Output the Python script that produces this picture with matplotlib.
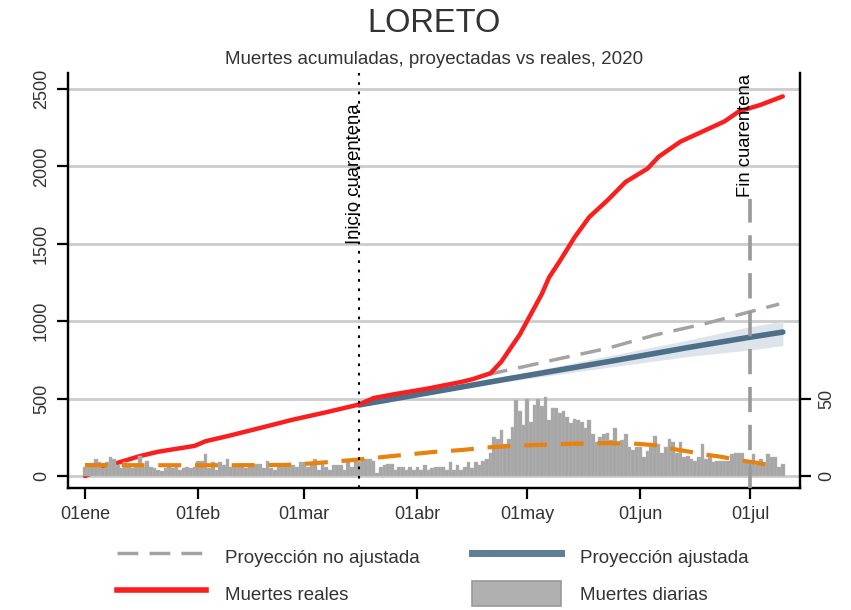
import numpy as np
import matplotlib
matplotlib.use('Agg')
import matplotlib.pyplot as plt
from matplotlib.lines import Line2D
from matplotlib.patches import Patch

plt.rcParams['font.family'] = ['Liberation Sans', 'DejaVu Sans']

########### Data (day 0 = 01 ene 2020)
# daily deaths, 01ene .. 10jul
daily_deaths = [6, 6, 8, 11, 9, 5, 9, 12, 11, 7, 5, 9, 8, 5, 8, 13, 6, 10, 6, 5,
                4, 3, 5, 6, 5, 7, 4, 5, 6, 5, 6, 10, 10, 14, 5, 9, 4, 9, 7, 11,
                6, 6, 7, 7, 5, 7, 8, 8,
                8, 5, 10, 5, 4, 6, 6, 8, 8, 7, 6, 9, 9, 6, 8, 11, 4, 10, 6, 4,
                7, 7, 7, 4, 9, 6, 10, 9, 11, 11, 11, 10, 2, 6, 7, 8, 8, 4, 6, 6,
                4, 6, 4, 6, 4, 7, 4, 5,
                6, 6, 6, 4, 9, 4, 7, 4, 6, 9, 5, 9, 7, 10, 11, 15, 25, 24, 30, 21,
                24, 32, 49, 42, 33, 50, 35, 46, 50, 45, 51, 36, 44, 44, 41, 42, 38, 34, 37, 36,
                35, 31, 36, 27, 22, 25, 27, 28, 23,
                31, 20, 23, 27, 19, 17, 19, 19, 12, 16, 19, 26, 21, 15, 19, 24, 22, 15, 22, 12,
                13, 11, 10, 12, 21, 11, 12, 9, 10, 10, 10, 10, 14, 15, 15, 15, 9, 6, 14, 7,
                11, 9, 14, 12, 12, 6, 8]
daily_days = list(range(len(daily_deaths)))

# smoothed daily deaths
smooth_days = [0, 20, 40, 55, 62, 68, 75, 84, 96, 103, 110, 118, 126, 134, 142,
               150, 157, 161, 166, 170, 174, 179, 184, 189]
smooth_vals = [7.1, 7.0, 7.0, 7.2, 8.2, 9.3, 10.7, 12.9, 15.7, 16.8, 18.5, 19.6, 20.3, 20.9, 21.3,
               21.0, 19.8, 17.5, 15.5, 13.8, 12.5, 10.3, 8.5, 6.3]

# cumulative deaths (observed)
real_days = [0, 8, 15, 20, 30, 33, 39, 48, 57, 66, 73, 75, 79, 84, 94, 103, 106, 111,
             114, 116, 119, 122, 125, 127, 130, 134, 138, 143, 148, 154, 157, 163, 168,
             175, 179, 185, 191]
real_vals = [0, 79, 129, 157, 195, 225, 258, 311, 365, 412, 451, 462, 504, 526, 566, 608, 625, 664,
             740, 810, 914, 1044, 1174, 1282, 1390, 1542, 1672, 1781, 1900, 1986, 2062, 2160, 2214,
             2290, 2355, 2398, 2452]

# adjusted projection with its band
adj_days = [75, 97, 115, 143, 165, 181, 191]
adj_vals = [459, 550, 625, 738, 830, 893, 930]
adj_low = [459, 540, 608, 702, 772, 812, 842]
adj_high = [459, 558, 642, 775, 878, 960, 1000]

# unadjusted projection
noadj_days = [110, 120, 129, 143, 156, 170, 182, 190]
noadj_vals = [655, 706, 754, 825, 911, 986, 1061, 1111]

quarantine_start = 75
quarantine_end = 182

tick_days = [0, 31, 60, 91, 121, 152, 182]
tick_labels = ['01ene', '01feb', '01mar', '01abr', '01may', '01jun', '01jul']
left_ticks = [0, 500, 1000, 1500, 2000, 2500]
right_ticks = [0, 50]

########### Colors
TXT = '#333333'
RED = '#fa1e1e'
BLUE = '#4d6f88'
BAND = '#dde4eb'
GREY_PROJ = '#a3a3a3'
BAR = '#a6a6a6'
ORANGE = '#e8820c'

YMIN, YMAX = -77, 2603

fig = plt.figure(figsize=(8.51, 6.10), dpi=100)
ax = fig.add_axes([68 / 851, 1 - 488 / 610, (800 - 68) / 851, (488 - 73) / 610])
ax2 = ax.twinx()

# cumulative series on left axis
ax.fill_between(adj_days, adj_low, adj_high, color=BAND, lw=0, zorder=1)
ax.plot(noadj_days, noadj_vals, color=GREY_PROJ, lw=2.5, dashes=(6, 3.2), zorder=2)
ax.plot(adj_days, adj_vals, color=BLUE, lw=4, solid_capstyle='round', zorder=3)
ax.plot(real_days, real_vals, color=RED, lw=3.2, solid_capstyle='round', zorder=4)

# daily deaths on right axis
ax2.bar(daily_days, daily_deaths, width=1.0, color=BAR, edgecolor='#b8b8b8', linewidth=0.3, zorder=1)
ax2.plot(smooth_days, smooth_vals, color=ORANGE, lw=3, dashes=(5.5, 3.3), zorder=2)

# quarantine markers
ax2.axvline(quarantine_start, color='black', lw=1.5, linestyle=(0, (1.3, 3.2)), zorder=3)
ax2.axvline(quarantine_end, ymax=(1790 - YMIN) / (YMAX - YMIN), color='#999999', lw=2.6,
            dashes=(7, 3.5), zorder=3)
ax.text(quarantine_start - 1.3, 1500, 'Inicio cuarentena', rotation=90, ha='center', va='bottom',
        fontsize=13.3, color='black', zorder=6)
ax.text(quarantine_end - 1.1, 1800, 'Fin cuarentena', rotation=90, ha='center', va='bottom',
        fontsize=13.3, color='black', zorder=6)

ax.set_xlim(-4.65, 195.7)
ax.set_ylim(YMIN, YMAX)
ax2.set_ylim(YMIN / 10, YMAX / 10)

ax.set_yticks(left_ticks)
ax.set_yticklabels([str(v) for v in left_ticks])
ax2.set_yticks(right_ticks)
ax2.set_yticklabels([str(v) for v in right_ticks])
ax.set_xticks(tick_days)
ax.set_xticklabels(tick_labels)

ax.yaxis.grid(True, color='#cccccc', lw=2)
ax.set_axisbelow(True)

for a in (ax, ax2):
    a.spines['top'].set_visible(False)
    for s in ('left', 'right', 'bottom'):
        a.spines[s].set_linewidth(1.6)
        a.spines[s].set_color('black')
    a.tick_params(length=8, width=1.6, labelsize=13, labelcolor=TXT, pad=5)

ax.tick_params(axis='y', labelrotation=90)
ax2.tick_params(axis='y', labelrotation=90)
for lab in ax.get_yticklabels() + ax2.get_yticklabels():
    lab.set_va('center')

# titles
fig.text(434 / 851, 1 - 23 / 610, 'LORETO', ha='center', va='center', fontsize=23.5, color=TXT)
fig.text(434 / 851, 1 - 59 / 610, 'Muertes acumuladas, proyectadas vs reales, 2020',
         ha='center', va='center', fontsize=13.5, color=TXT)

# legend
handles = [
    Line2D([], [], color=GREY_PROJ, lw=2.5, dashes=(6, 3.2)),
    Line2D([], [], color=RED, lw=4),
    Line2D([], [], color='#5c7f96', lw=5),
    Patch(facecolor='#b0b0b0', edgecolor='#999999', lw=1.2),
]
labels = ['Proyección no ajustada', 'Muertes reales', 'Proyección ajustada', 'Muertes diarias']
fig.legend(handles, labels, loc='upper left', bbox_to_anchor=(117 / 851, 1 - 544 / 610),
           ncol=2, frameon=False, fontsize=13.5, labelcolor=TXT, borderpad=0, borderaxespad=0,
           handlelength=4.75, handleheight=1.7, handletextpad=1.0, columnspacing=2.8,
           labelspacing=0.62)

fig.savefig('out.png', dpi=100)
